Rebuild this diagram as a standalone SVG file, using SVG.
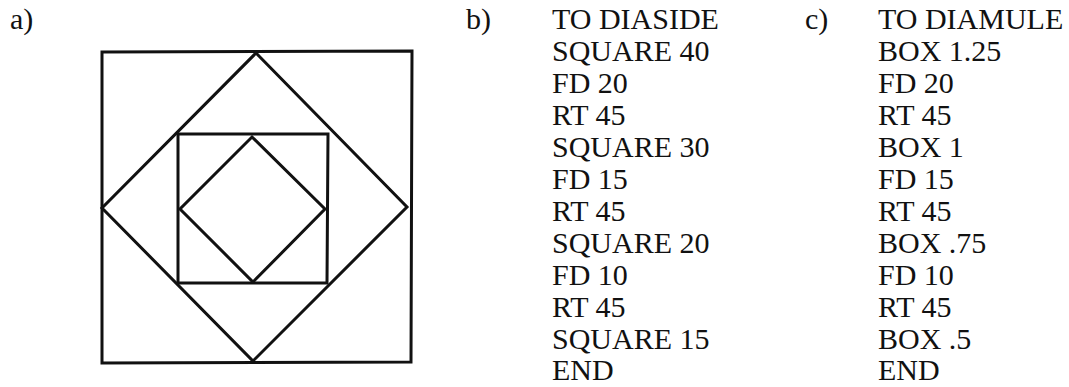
<svg xmlns="http://www.w3.org/2000/svg" width="1069" height="387" viewBox="0 0 1069 387">
<style>
.t{font-family:"Liberation Serif","Times New Roman","DejaVu Serif",serif;font-size:30px;fill:#111}
.ln{fill:none;stroke:#111;stroke-width:3;stroke-linejoin:miter}
</style>
<rect width="1069" height="387" fill="#fff"/>
<g id="labels">
<text class="t" x="10" y="29">a)</text>
<text class="t" x="466" y="29">b)</text>
<text class="t" x="805" y="29">c)</text>
</g>
<g id="figure-a">
<polygon class="ln" points="102,52 412,51 411,362 102,363"/>
<polygon class="ln" points="256,53 407,207 253,361 102,208"/>
<polygon class="ln" points="178,134 328,134 327,283 178,283"/>
<polygon class="ln" points="252,137 325,209 253,282 180,209"/>
</g>
<g id="program-b" class="t">
<text x="552" y="29">TO DIASIDE</text>
<text x="552" y="61">SQUARE 40</text>
<text x="552" y="93">FD 20</text>
<text x="552" y="125">RT 45</text>
<text x="552" y="157">SQUARE 30</text>
<text x="552" y="189">FD 15</text>
<text x="552" y="221">RT 45</text>
<text x="552" y="253">SQUARE 20</text>
<text x="552" y="285">FD 10</text>
<text x="552" y="317">RT 45</text>
<text x="552" y="349">SQUARE 15</text>
<text x="552" y="380">END</text>
</g>
<g id="program-c" class="t">
<text x="878" y="29">TO DIAMULE</text>
<text x="878" y="61">BOX 1.25</text>
<text x="878" y="93">FD 20</text>
<text x="878" y="125">RT 45</text>
<text x="878" y="157">BOX 1</text>
<text x="878" y="189">FD 15</text>
<text x="878" y="221">RT 45</text>
<text x="878" y="253">BOX .75</text>
<text x="878" y="285">FD 10</text>
<text x="878" y="317">RT 45</text>
<text x="878" y="349">BOX .5</text>
<text x="878" y="380">END</text>
</g>
</svg>
